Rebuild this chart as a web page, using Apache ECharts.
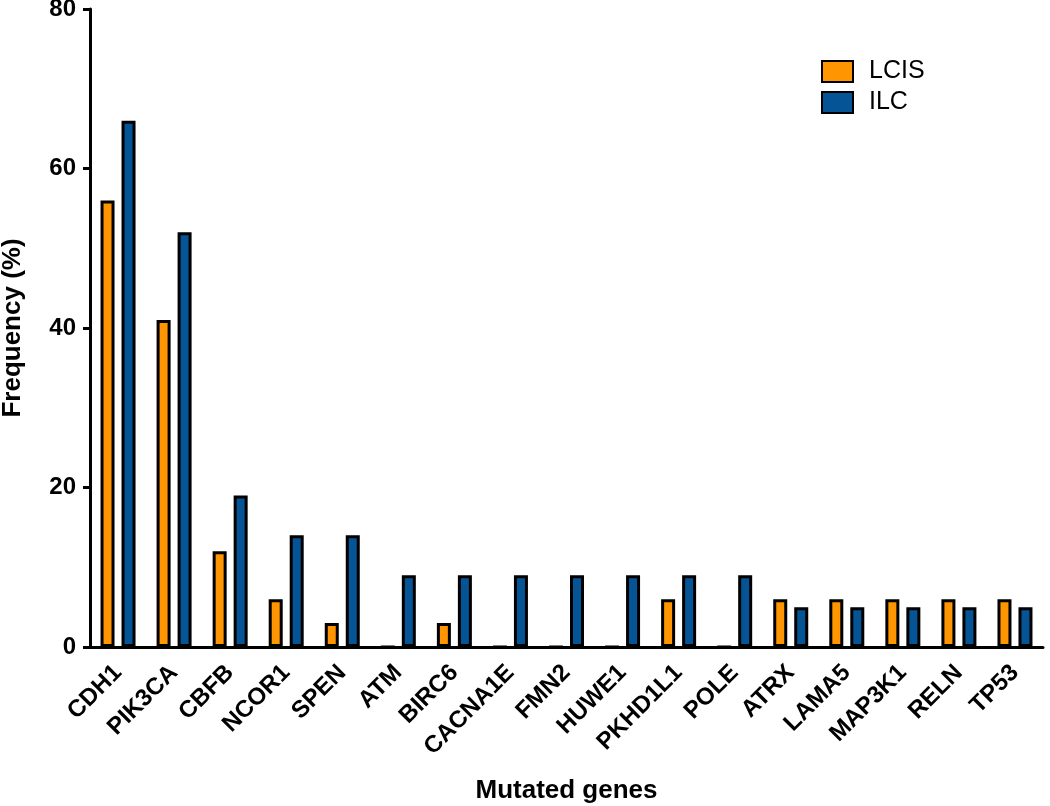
<!DOCTYPE html>
<html>
<head>
<meta charset="utf-8">
<script src="https://cdn.jsdelivr.net/npm/echarts@6/dist/echarts.min.js"></script>
<style>
html,body{margin:0;padding:0;background:#fff;}
#chart{width:1050px;height:806px;}
</style>
</head>
<body>
<div id="chart"></div>
<script>
const genes = ['CDH1','PIK3CA','CBFB','NCOR1','SPEN','ATM','BIRC6','CACNA1E','FMN2','HUWE1','PKHD1L1','POLE','ATRX','LAMA5','MAP3K1','RELN','TP53'];
const lcis = [56,41,12,6,3,0,3,0,0,0,6,0,6,6,6,6,6];
const ilc  = [66,52,19,14,14,9,9,9,9,9,9,9,5,5,5,5,5];
const yTicks = [0,20,40,60,80];

const FONT = '"Liberation Sans", Arial, sans-serif';
const chart = echarts.init(document.getElementById('chart'), null, {renderer:'canvas'});
chart.setOption({
  animation:false,
  backgroundColor:'#fff',
  grid:{left:90,right:7,top:9,bottom:159,containLabel:false,outerBoundsMode:'none'},
  legend:{
    left:816, top:54, orient:'vertical',
    itemWidth:31, itemHeight:21, itemGap:6,
    icon:'rect',
    textStyle:{fontFamily:FONT,fontSize:25,color:'#000',padding:[0,0,0,11]},
    data:['LCIS','ILC']
  },
  xAxis:{
    type:'category', data:genes,
    name:'Mutated genes', nameLocation:'middle', nameGap:131,
    nameTextStyle:{fontFamily:FONT,fontSize:26,fontWeight:'bold',color:'#000'},
    axisLine:{lineStyle:{color:'#000',width:3}},
    axisTick:{alignWithLabel:true,length:7,lineStyle:{color:'#000',width:3}},
    axisLabel:{rotate:45,margin:22,interval:0,fontFamily:FONT,fontSize:24,fontWeight:'bold',color:'#000'}
  },
  yAxis:{
    type:'value', min:yTicks[0], max:yTicks[yTicks.length-1], interval:20,
    name:'Frequency (%)', nameLocation:'middle', nameGap:64,
    nameTextStyle:{fontFamily:FONT,fontSize:26,fontWeight:'bold',color:'#000'},
    axisLine:{show:true,lineStyle:{color:'#000',width:3}},
    axisTick:{show:true,length:7,lineStyle:{color:'#000',width:3}},
    axisLabel:{margin:14,fontFamily:FONT,fontSize:24,fontWeight:'bold',color:'#000'},
    splitLine:{show:false}
  },
  series:[
    {name:'LCIS',type:'bar',data:lcis,barWidth:14,barGap:'50%',
     itemStyle:{color:'#FF9500',borderColor:'#000',borderWidth:3}},
    {name:'ILC',type:'bar',data:ilc,barWidth:14,barGap:'50%',
     itemStyle:{color:'#045496',borderColor:'#000',borderWidth:3}}
  ]
});
</script>
</body>
</html>
